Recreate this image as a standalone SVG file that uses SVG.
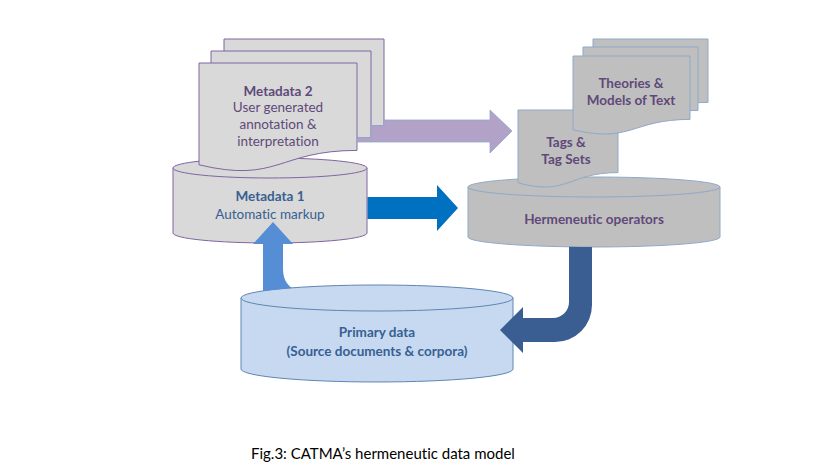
<svg xmlns="http://www.w3.org/2000/svg" width="836" height="472" viewBox="0 0 836 472">
<style>
text{font-variant-ligatures:none}
.t{font-family:Lato,"Liberation Sans",sans-serif;font-size:13.5px;text-anchor:middle}
.b{font-weight:bold}
.pu{fill:#5f497a}
.bl{fill:#376092}
.pg{fill:#d9d9d9;stroke:#8064a2;stroke-width:1}
.gr{fill:#bfbfbf;stroke:#8ea9c9;stroke-width:1}
.pr{fill:#c6d9f1;stroke:#5f86b3;stroke-width:1}
</style>
<rect width="836" height="472" fill="#ffffff"/>

<g id="metadata1">
<path class="pg" d="M173,168 V233 A97,10 0 0 0 367,233 V168 Z"/>
<ellipse class="pg" cx="270" cy="168" rx="97" ry="10"/>
<text class="t b bl" x="270" y="201">Metadata 1</text>
<text class="t bl" x="270" y="219">Automatic markup</text>
</g>

<g id="primary">
<path class="pr" d="M241,298 V369 A136,13 0 0 0 513,369 V298 Z"/>
<ellipse class="pr" cx="377" cy="298" rx="136" ry="13"/>
<text class="t b bl" x="377" y="337">Primary data</text>
<text class="t b bl" x="377" y="356">(Source documents &amp; corpora)</text>
</g>

<g id="metadata2">
<path class="pg" d="M224,39 H384 V125.6 C304,125.6 304,158.6 224,140 Z"/>
<path class="pg" d="M211,51 H371 V137.6 C291,137.6 291,170.6 211,152 Z"/>
<path class="pg" d="M199,63 H357 V150.4 C278,150.4 278,183.7 199,164.8 Z"/>
<text class="t b pu" x="278" y="96">Metadata 2</text>
<text class="t pu" x="278" y="112">User generated</text>
<text class="t pu" x="278" y="129">annotation &amp;</text>
<text class="t pu" x="278" y="146">interpretation</text>
</g>

<g id="hermeneutic">
<path class="gr" d="M468,187 V237 A126,10 0 0 0 720,237 V187 Z"/>
<ellipse class="gr" cx="594" cy="187" rx="126" ry="10"/>
<text class="t b pu" x="594" y="224">Hermeneutic operators</text>
</g>

<g id="tags">
<path class="gr" d="M518,110 H618 V172.6 C568,172.6 568,196.3 518,182.9 Z"/>
<text class="t b pu" x="566" y="147">Tags &amp;</text>
<text class="t b pu" x="566" y="164">Tag Sets</text>
</g>

<g id="theories">
<path class="gr" d="M593,39 H708 V102.4 C650.5,102.4 650.5,126.5 593,112.8 Z"/>
<path class="gr" d="M583,47 H698 V110.4 C640.5,110.4 640.5,134.5 583,120.8 Z"/>
<path class="gr" d="M573,56 H690 V119.4 C631.5,119.4 631.5,143.5 573,129.8 Z"/>
<text class="t b pu" x="631" y="88">Theories &amp;</text>
<text class="t b pu" x="631" y="105">Models of Text</text>
</g>

<g id="connectors">
<path fill="#b3a2c7" stroke="#8ea9c9" stroke-width="0.8" d="M384,125.6 V120 H490 V110 L512,131 L490,153 V142 H357.5 V137.6 H371 V125.6 Z"/>
<path fill="#0070c0" d="M367.5,197 H437 V185 L458,208 L437,231 V219 H367.5 Z"/>
<path fill="#558ed5" d="M263,291 V244 H253 L273,222 L293,244 H283 V268 C283,278 286,284 292,288 A136,13 0 0 0 263,291 Z"/>
<path fill="#3a5e91" d="M569,246.8 A126,10 0 0 0 592,247 V305 A37,37 0 0 1 555,342 H523 V353 L500,330 L523,307 V318 H553 A16,16 0 0 0 569,302 Z"/>
</g>

<text x="251" y="459" font-family="Lato,'Liberation Sans',sans-serif" font-size="15" fill="#000000">Fig.3: CATMA’s hermeneutic data model</text>
</svg>
